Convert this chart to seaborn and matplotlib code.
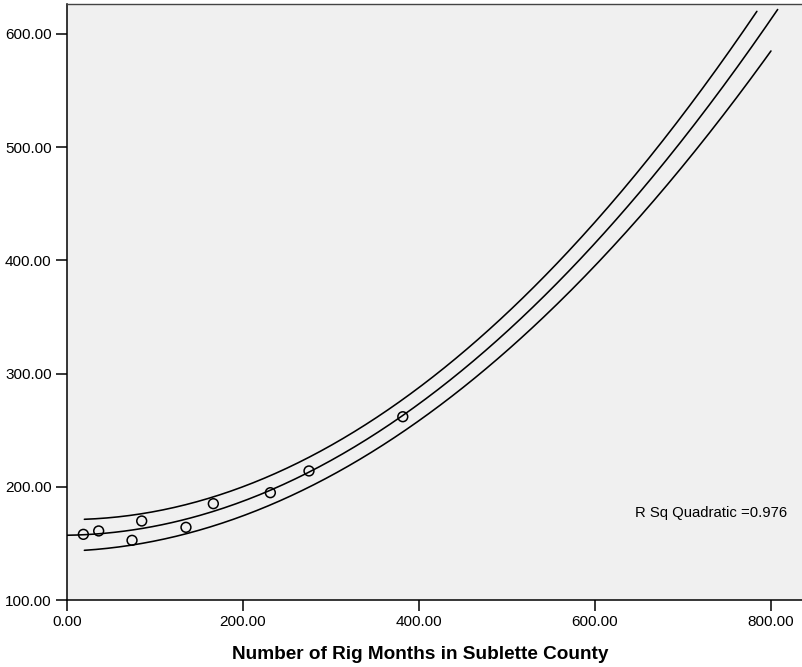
import numpy as np
import pandas as pd
import matplotlib
matplotlib.use("Agg")
import matplotlib.pyplot as plt
import seaborn as sns

# Observed values
rig_months = [18.6, 36.0, 73.9, 84.9, 135.2, 166.3, 231.1, 275.0, 381.6]
response = [158.0, 161.0, 152.7, 169.8, 164.2, 185.1, 194.8, 214.0, 261.9]

# Quadratic fit (intercept, linear, quadratic) and its 95% interval bounds
fit_coef = [157.2, 0.0106, 0.000699]
upper_coef = [171.03, -0.00104, 0.0007318]
lower_coef = [143.16, 0.02403, 0.00066035]

# x extent of each curve
fit_range = (0.0, 807.6)
upper_range = (19.7, 784.0)
lower_range = (19.7, 800.0)

x_ticks = [0, 200, 400, 600, 800]
y_ticks = [100, 200, 300, 400, 500, 600]
x_label = "Number of Rig Months in Sublette County"
r2_text = "R Sq Quadratic =0.976"

sns.set_theme(style="white")
plt.rcParams["font.family"] = ["Liberation Sans", "DejaVu Sans"]
plt.rcParams["text.color"] = "black"
plt.rcParams["axes.labelcolor"] = "black"
plt.rcParams["xtick.color"] = "black"
plt.rcParams["ytick.color"] = "black"

fig = plt.figure(figsize=(8.02, 6.67), dpi=100)
ax = fig.add_axes([67 / 802, 67 / 667, 736 / 802, 596 / 667])
ax.set_facecolor("#F0F0F0")


def curve(coef, rng):
    xs = np.linspace(rng[0], rng[1], 300)
    ys = coef[0] + coef[1] * xs + coef[2] * xs ** 2
    return pd.DataFrame({"x": xs, "y": ys})


for coef, rng in [(fit_coef, fit_range), (upper_coef, upper_range), (lower_coef, lower_range)]:
    sns.lineplot(data=curve(coef, rng), x="x", y="y", ax=ax, color="black",
                 linewidth=1.15, sort=False, estimator=None)

pts = pd.DataFrame({"x": rig_months, "y": response})
sns.scatterplot(data=pts, x="x", y="y", ax=ax, s=50, facecolor="none",
                edgecolor="black", linewidth=1.1, zorder=5)

ax.set_xlim(0, 836.4)
ax.set_ylim(100, 626.5)
ax.set_xticks(x_ticks)
ax.set_yticks(y_ticks)
ax.set_xticklabels([f"{v:.2f}" for v in x_ticks], fontsize=11)
ax.set_yticklabels([f"{v:.2f}" for v in y_ticks], fontsize=11)
ax.tick_params(axis="both", direction="out", length=8, width=1.1, color="black",
               labelcolor="black", bottom=True, left=True, pad=3)
ax.set_xlabel(x_label, fontsize=13.7, fontweight="bold", color="black")
ax.xaxis.set_label_coords((420 - 67) / 736, -0.078)
ax.set_ylabel("")

for side in ["left", "bottom"]:
    ax.spines[side].set_color("black")
    ax.spines[side].set_linewidth(1.1)
ax.spines["top"].set_color("#444444")
ax.spines["top"].set_linewidth(1.0)
ax.spines["right"].set_visible(False)

ax.text(646, 176.9, r2_text, fontsize=10.7, ha="left", va="center", color="black")

fig.savefig("out.png", dpi=100, facecolor="white")
